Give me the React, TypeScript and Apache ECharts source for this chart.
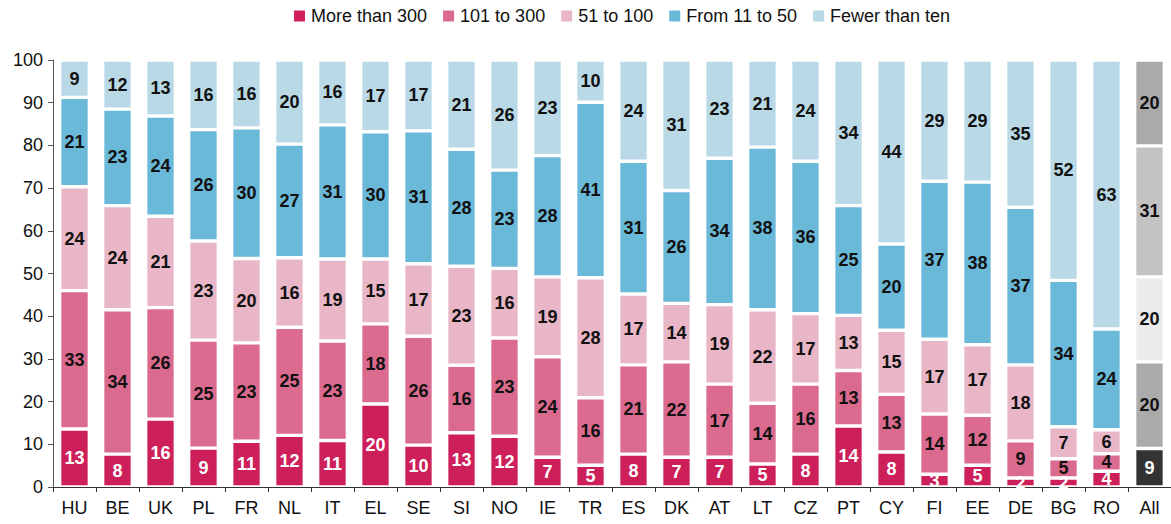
import React, { useEffect, useRef } from "react";
import * as echarts from "echarts";

const categories = ["HU","BE","UK","PL","FR","NL","IT","EL","SE","SI","NO","IE","TR","ES","DK","AT","LT","CZ","PT","CY","FI","EE","DE","BG","RO","All"];

const seriesNames = ["More than 300", "101 to 300", "51 to 100", "From 11 to 50", "Fewer than ten"];

// segment heights (percent of enterprises)
const moreThan300 = [13.6, 7.7, 15.9, 9.1, 10.7, 12.1, 10.9, 19.45, 9.8, 12.7, 11.9, 6.95, 5.1, 7.7, 6.95, 6.95, 5.4, 7.7, 14.3, 8.2, 3.0, 5.1, 2.1, 2.1, 3.7, 9.0];
const from101to300 = [32.4, 33.8, 26.1, 25.3, 23.05, 25.3, 23.3, 18.75, 25.5, 15.8, 23.0, 23.55, 15.8, 20.9, 22.35, 17.15, 14.2, 16.4, 13.0, 13.5, 14.1, 11.7, 8.7, 4.5, 4.1, 20.3];
const from51to100 = [24.3, 24.4, 21.4, 23.2, 19.75, 16.3, 19.2, 15.2, 17.0, 23.2, 16.3, 18.7, 28.1, 16.6, 13.7, 18.6, 21.9, 16.5, 12.9, 15.0, 17.5, 16.5, 17.8, 7.5, 5.6, 19.9];
const from11to50 = [20.95, 22.6, 23.5, 26.1, 30.6, 26.6, 31.4, 29.8, 31.1, 27.4, 23.0, 28.4, 41.1, 31.1, 26.45, 34.3, 38.1, 35.7, 25.7, 20.2, 37.0, 38.1, 36.9, 34.3, 23.6, 30.7];
const fewerThanTen = [8.75, 11.5, 13.1, 16.3, 15.9, 19.7, 15.2, 16.8, 16.6, 20.9, 25.8, 22.4, 9.9, 23.7, 30.55, 23.0, 20.4, 23.7, 34.1, 43.1, 28.4, 28.6, 34.5, 51.6, 63.0, 20.1];

// printed labels
const labels300 = [13, 8, 16, 9, 11, 12, 11, 20, 10, 13, 12, 7, 5, 8, 7, 7, 5, 8, 14, 8, 3, 5, 2, 2, 4, 9];
const labels101 = [33, 34, 26, 25, 23, 25, 23, 18, 26, 16, 23, 24, 16, 21, 22, 17, 14, 16, 13, 13, 14, 12, 9, 5, 4, 20];
const labels51 = [24, 24, 21, 23, 20, 16, 19, 15, 17, 23, 16, 19, 28, 17, 14, 19, 22, 17, 13, 15, 17, 17, 18, 7, 6, 20];
const labels11 = [21, 23, 24, 26, 30, 27, 31, 30, 31, 28, 23, 28, 41, 31, 26, 34, 38, 36, 25, 20, 37, 38, 37, 34, 24, 31];
const labelsFew = [9, 12, 13, 16, 16, 20, 16, 17, 17, 21, 26, 23, 10, 24, 31, 23, 21, 24, 34, 44, 29, 29, 35, 52, 63, 20];

const yTicks = [0, 10, 20, 30, 40, 50, 60, 70, 80, 90, 100];

const colors = ["#CD1F59", "#DB6A8F", "#E8B6C6", "#6BB9D9", "#B8D9E5"];
const allColors = ["#333333", "#ABABAB", "#EBEBEB", "#C3C3C3", "#AAAAAA"];
const labelColors = ["#FFFFFF", "#111111", "#111111", "#111111", "#111111"];

const FONT = "'Liberation Sans', Arial, sans-serif";

export default function App() {
  const ref = useRef<HTMLDivElement>(null);
  useEffect(() => {
    if (!ref.current) return;
    const chart = echarts.init(ref.current, null, { renderer: "svg" });
    const values = [moreThan300, from101to300, from51to100, from11to50, fewerThanTen];
    const labels = [labels300, labels101, labels51, labels11, labelsFew];
    const lastIdx = categories.length - 1;
    const series = values.map((arr, si) => ({
      name: seriesNames[si],
      type: "bar",
      stack: "total",
      barWidth: 29.7,
      itemStyle: { color: colors[si], borderColor: "#FFFFFF", borderWidth: 1.7 },
      label: {
        show: true,
        position: "inside",
        color: labelColors[si],
        fontFamily: FONT,
        fontWeight: "bold",
        fontSize: 18,
        formatter: (p: any) => String(labels[si][p.dataIndex]),
      },
      data: arr.map((v, i) =>
        i === lastIdx ? { value: v, itemStyle: { color: allColors[si] } } : v
      ),
    }));
    chart.setOption({
      animation: false,
      textStyle: { fontFamily: FONT },
      legend: {
        top: 2,
        left: 287,
        icon: "rect",
        itemWidth: 13,
        itemHeight: 13,
        itemGap: 14,
        textStyle: { fontSize: 18, color: "#111", fontFamily: FONT },
        data: seriesNames,
      },
      grid: { left: 53, top: 60, bottom: 37, right: -1, containLabel: false },
      xAxis: {
        type: "category",
        data: categories,
        axisLine: { lineStyle: { color: "#333", width: 1 } },
        axisTick: { show: true, length: 5, lineStyle: { color: "#333" } },
        axisLabel: { fontSize: 18, color: "#111", margin: 12, fontFamily: FONT, interval: 0 },
      },
      yAxis: {
        type: "value",
        min: yTicks[0],
        max: yTicks[yTicks.length - 1],
        interval: 10,
        axisLine: { show: true, lineStyle: { color: "#555", width: 1 } },
        axisTick: { show: true, length: 5, lineStyle: { color: "#555" } },
        splitLine: { show: false },
        axisLabel: { fontSize: 18, color: "#111", margin: 10, fontFamily: FONT },
      },
      series,
    });
    return () => chart.dispose();
  }, []);
  return (
    <div
      ref={ref}
      style={{ position: "fixed", left: 0, top: 0, width: 1171, height: 524, background: "#fff" }}
    />
  );
}
